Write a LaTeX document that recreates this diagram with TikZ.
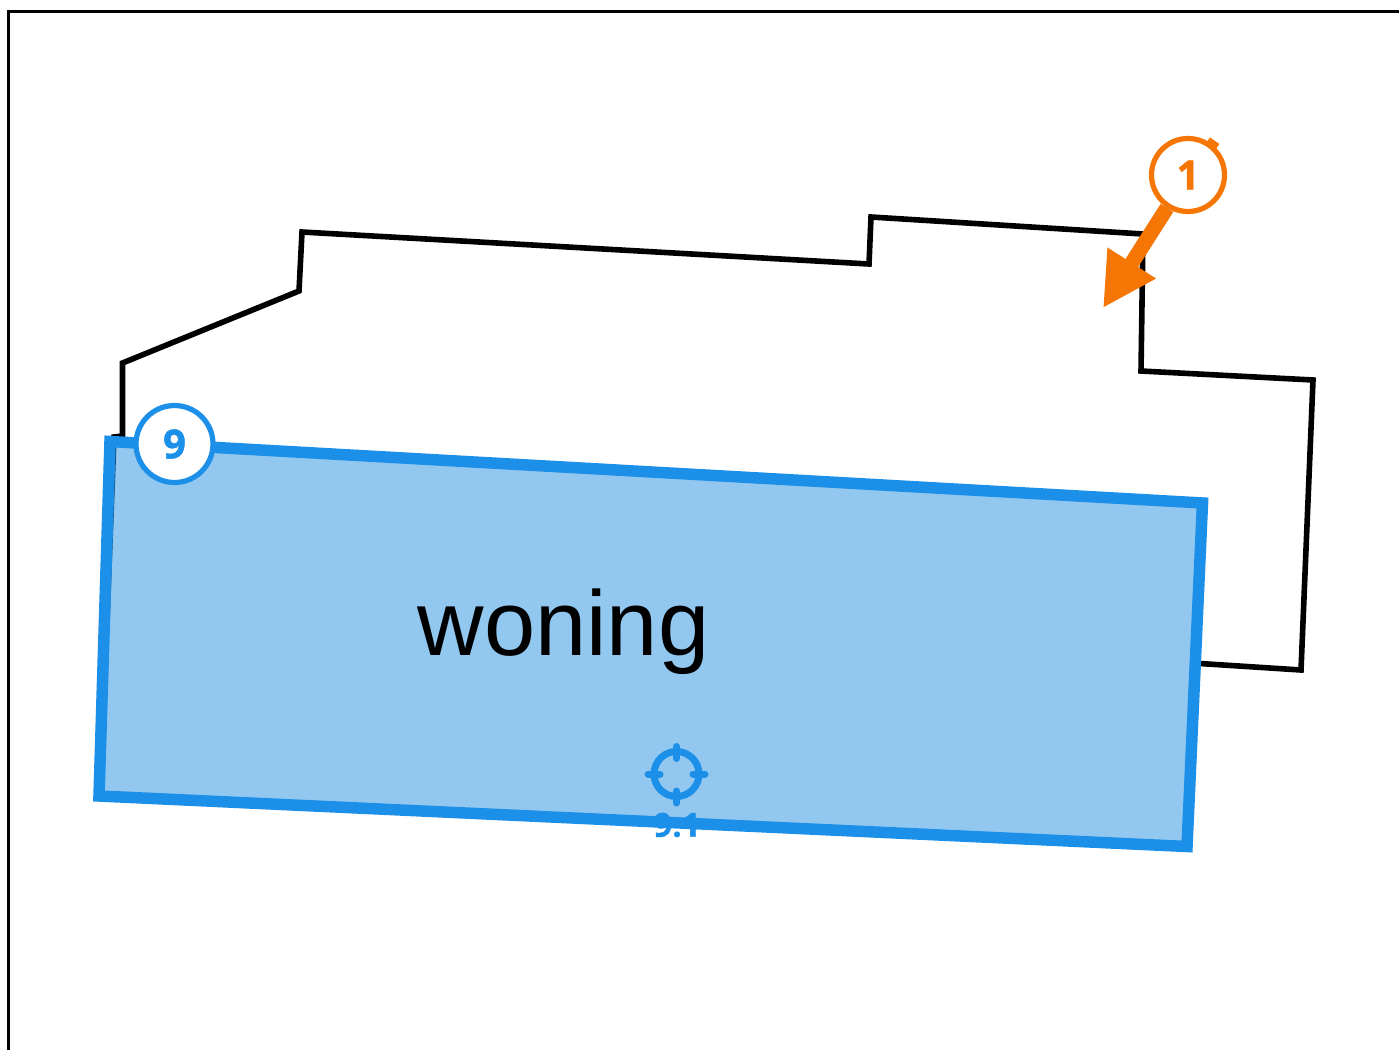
\documentclass[tikz,border=0pt]{standalone}
\usepackage{fontspec}
\setmainfont{Liberation Sans}
\newfontfamily\badgefont{Open Sans}[BoldFeatures={FakeBold=1.2}]
\usetikzlibrary{arrows.meta}
\definecolor{planblue}{HTML}{1C8FE8}
\definecolor{planfill}{HTML}{2591DF}
\definecolor{planorange}{HTML}{F57505}
\tikzset{
  x=1pt,y=-1pt,
  frameline/.style={draw=black,line width=3pt},
  outline/.style={draw=black,line width=5.6pt,line join=miter},
  zone/.style={draw=planblue,line width=11.5pt,fill=planfill,fill opacity=.5,line join=miter},
  badge/.style={circle,fill=white,line width=5.2pt,inner sep=0pt,
    font=\badgefont\bfseries\fontsize{40}{40}\selectfont},
  marker/.style={draw=planblue,line width=7pt,line cap=round},
}
\begin{document}
\begin{tikzpicture}
\useasboundingbox (0,0) rectangle (1399,1050);
\draw[frameline] (8.5,1050) -- (8.5,11) -- (1399,11);
% building outline
\draw[outline] (1200,663.5) -- (1301,670) -- (1313,380) -- (1141,371) -- (1143,234)
  -- (871,217) -- (869,264) -- (302,232) -- (299,291) -- (122.5,363) -- (122.5,436)
  -- (114,437) -- (107,620);
% zone
\draw[zone] (110,441.5) -- (1202.5,503) -- (1187,846.5) -- (99,796) -- cycle;
% label
\node[anchor=base,inner sep=0pt,font=\fontsize{92}{92}\selectfont] (woning) at (563.5,655) {woning};
% target marker
\node[circle,draw=planblue,line width=7pt,minimum size=45pt,inner sep=0pt] (target) at (676.5,774) {};
\coordinate (tl) at (648,774); \coordinate (tli) at (660,774);
\coordinate (trr) at (705,774); \coordinate (tri) at (693,774);
\coordinate (ttp) at (676.5,746.5); \coordinate (tti) at (676.5,758.5);
\coordinate (tbt) at (676.5,803); \coordinate (tbi) at (676.5,791);
\draw[marker] (tl) -- (tli);
\draw[marker] (trr) -- (tri);
\draw[marker] (ttp) -- (tti);
\draw[marker] (tbt) -- (tbi);
\node[inner sep=0pt,text=planblue,font=\badgefont\bfseries\fontsize{33}{33}\selectfont] (targetlabel) at (677,825) {9.1};
% badge 9
\node[badge,draw=planblue,text=planblue,minimum size=77pt] (nine) at (174.5,444) {\raisebox{-1.5pt}{9}};
% badge 1 and arrow
\coordinate (arrowtip) at (1103,308);
\coordinate (ticka) at (1208.5,139.5);
\coordinate (tickb) at (1218,146);
\draw[draw=planorange,line width=5pt] (ticka) -- (tickb);
\node[badge,draw=planorange,text=planorange,minimum size=73pt] (one) at (1188,175) {\raisebox{-1.5pt}{1}};
\draw[draw=planorange,line width=15pt,-{Triangle[length=53.4pt,width=53.5pt,fill=planorange]}] (one) -- (arrowtip);
\end{tikzpicture}
\end{document}
